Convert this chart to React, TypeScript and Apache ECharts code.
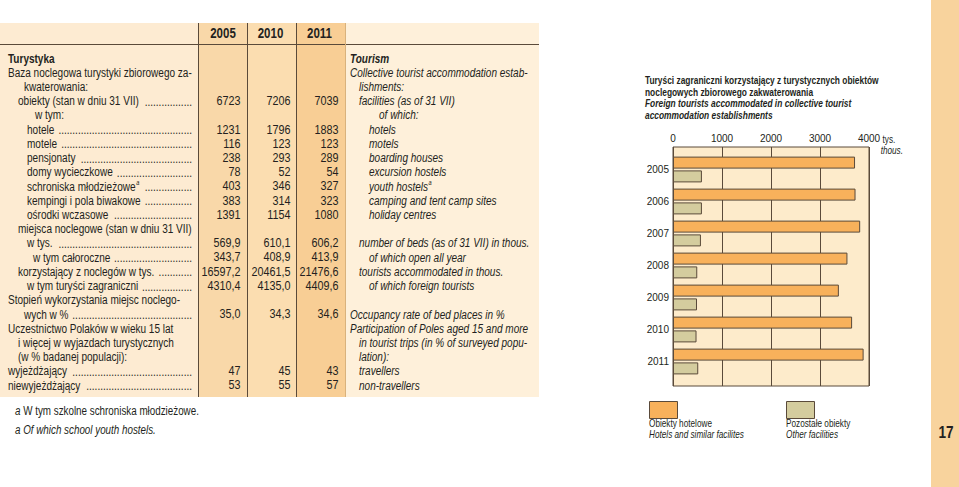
import React, { useEffect, useRef } from 'react';
import * as echarts from 'echarts';

const FONT = '"Liberation Sans", Arial, Helvetica, sans-serif';
const INK = '#231f20';
const LINE = '#5a4a3a';

// ---- table data ----
const headerYears = ['2005', '2010', '2011'];
const plLabels = [
  'Turystyka',
  'Baza noclegowa turystyki zbiorowego za-',
  'kwaterowania:',
  'obiekty (stan w dniu 31 VII)',
  'w tym:',
  'hotele',
  'motele',
  'pensjonaty',
  'domy wycieczkowe',
  'schroniska młodzieżowe',
  'kempingi i pola biwakowe',
  'ośrodki wczasowe',
  'miejsca noclegowe (stan w dniu 31 VII)',
  'w tys.',
  'w tym całoroczne',
  'korzystający z noclegów w tys.',
  'w tym turyści zagraniczni',
  'Stopień wykorzystania miejsc noclego-',
  'wych w %',
  'Uczestnictwo Polaków w wieku 15 lat',
  'i więcej w wyjazdach turystycznych',
  '(w % badanej populacji):',
  'wyjeżdżający',
  'niewyjeżdżający',
];
const enLabels = [
  'Tourism',
  'Collective tourist accommodation estab-',
  'lishments:',
  'facilities (as of 31 VII)',
  'of which:',
  'hotels',
  'motels',
  'boarding houses',
  'excursion hostels',
  'youth hostels',
  'camping and tent camp sites',
  'holiday centres',
  '',
  'number of beds (as of 31 VII) in thous.',
  'of which open all year',
  'tourists accommodated in thous.',
  'of which foreign tourists',
  '',
  'Occupancy rate of bed places in %',
  'Participation of Poles aged 15 and more',
  'in tourist trips (in % of surveyed popu-',
  'lation):',
  'travellers',
  'non-travellers',
];
const valueRows = [3, 5, 6, 7, 8, 9, 10, 11, 13, 14, 15, 16, 18, 22, 23];
const values2005 = ['6723', '1231', '116', '238', '78', '403', '383', '1391', '569,9', '343,7', '16597,2', '4310,4', '35,0', '47', '53'];
const values2010 = ['7206', '1796', '123', '293', '52', '346', '314', '1154', '610,1', '408,9', '20461,5', '4135,0', '34,3', '45', '55'];
const values2011 = ['7039', '1883', '123', '289', '54', '327', '323', '1080', '606,2', '413,9', '21476,6', '4409,6', '34,6', '43', '57'];
const footnoteRow = 9;
const footnoteMark = 'a';
const footnotes = ['W tym szkolne schroniska młodzieżowe.', 'Of which school youth hostels.'];

// ---- chart data ----
const titlePl = ['Turyści zagraniczni korzystający z turystycznych obiektów', 'noclegowych zbiorowego zakwaterowania'];
const titleEn = ['Foreign tourists accommodated in collective tourist', 'accommodation establishments'];
const chartYears = ['2005', '2006', '2007', '2008', '2009', '2010', '2011'];
const hotelsForeign = [3715, 3725, 3820, 3560, 3385, 3655, 3890];
const otherForeign = [590, 590, 570, 495, 490, 480, 515];
const unitPl = 'tys.';
const unitEn = 'thous.';
const legendPl = ['Obiekty hotelowe', 'Pozostałe obiekty'];
const legendEn = ['Hotels and similar facilites', 'Other facilities'];
const pageNumber = '17';

// ---- layout (positions only) ----
const plIndent = [8, 8, 24, 18, 35, 27, 27, 27, 27, 27, 27, 27, 18, 27, 33, 18, 27, 8, 24, 8, 18, 18, 8, 8];
const enIndent = [350, 350, 359, 359, 379, 369, 369, 369, 369, 369, 369, 369, 0, 359, 369, 359, 369, 0, 350, 350, 359, 359, 359, 359];

const TS = 13.5;

let measureCtx: CanvasRenderingContext2D | null = null;
function textW(t: string, size: number, italic = false, bold = false) {
  if (!measureCtx) measureCtx = document.createElement('canvas').getContext('2d');
  if (!measureCtx) return t.length * size * 0.5;
  measureCtx.font = `${italic ? 'italic' : 'normal'} ${bold ? 'bold' : 'normal'} ${size}px ${FONT}`;
  return measureCtx.measureText(t).width;
}

function txt(x: number, y: number, text: string, o: any = {}) {
  const align = o.align || 'left';
  return {
    type: 'text',
    x,
    y,
    scaleX: o.sx == null ? 1 : o.sx,
    silent: true,
    z: 10,
    style: {
      text,
      fill: o.fill || INK,
      fontSize: o.size || TS,
      fontFamily: FONT,
      fontStyle: o.italic ? 'italic' : 'normal',
      fontWeight: o.bold ? 'bold' : 'normal',
      textAlign: align,
      align,
      textVerticalAlign: 'middle',
      verticalAlign: 'middle',
    },
  };
}

function rect(x: number, y: number, w: number, h: number, fill: string, extra: any = {}) {
  return { type: 'rect', silent: true, z: 1, shape: { x, y, width: w, height: h }, style: { fill, ...extra } };
}

function line(x1: number, y1: number, x2: number, y2: number, stroke: string) {
  return { type: 'line', silent: true, z: 2, shape: { x1, y1, x2, y2 }, style: { stroke, lineWidth: 1 } };
}

function buildGraphic() {
  const SX = 184 / textW(plLabels[1], TS);
  const SXV = 39 / textW(values2005[10], TS);
  const TT = 11.5;
  const SXT = 234 / textW(titlePl[0], TT, false, true);
  const FS = 12.5;
  const SXF = 184 / (textW(footnoteMark + ' ', FS, true) + textW(footnotes[0], FS));
  const LS = 11.5;
  const SXL = 63 / textW(legendPl[0], LS);

  const els: any[] = [];
  // table backgrounds
  els.push(rect(0, 23, 198, 374, '#FDEBD2'));
  els.push(rect(198, 23, 49, 374, '#F9D8A9'));
  els.push(rect(247, 23, 49, 374, '#FBDDB0'));
  els.push(rect(296, 23, 49, 374, '#F8CE95'));
  els.push(rect(345, 23, 194, 374, '#FEF0DA'));
  els.push(line(0, 44.5, 539, 44.5, LINE));
  [198.5, 247.5, 296.5].forEach((x) => els.push(line(x, 23, x, 397, LINE)));
  els.push(line(345.5, 23, 345.5, 397, '#d9b27c'));
  // right strip
  els.push(rect(931, 0, 28, 487, '#F8D39D'));
  els.push(txt(946, 433, pageNumber, { bold: true, size: 16, align: 'center', sx: 0.85 }));

  // header years
  const colCenters = [223, 270.5, 319.5];
  headerYears.forEach((y, i) => els.push(txt(colCenters[i], 33.5, y, { bold: true, align: 'center', size: 14, sx: 0.82 })));

  const rowY = (i: number) => 58 + i * 14.22;
  const colRight = [240.5, 290.5, 338.5];
  const dotW = textW('.', TS) * SX;
  plLabels.forEach((lab, i) => {
    const y = rowY(i);
    els.push(txt(plIndent[i], y, lab, { bold: i === 0, sx: SX }));
    let end = plIndent[i] + textW(lab, TS, false, i === 0) * SX;
    if (i === footnoteRow) {
      els.push(txt(end + 0.5, y - 4, footnoteMark, { size: 7.5, italic: true, sx: SX }));
      end += 5;
    }
    const vi = valueRows.indexOf(i);
    if (vi >= 0) {
      const start = end + 3;
      const n = Math.max(0, Math.floor((192 - start) / dotW));
      els.push(txt(192, y + 0.5, '.'.repeat(n), { align: 'right', sx: SX }));
      els.push(txt(colRight[0], y, values2005[vi], { align: 'right', sx: SXV }));
      els.push(txt(colRight[1], y, values2010[vi], { align: 'right', sx: SXV }));
      els.push(txt(colRight[2], y, values2011[vi], { align: 'right', sx: SXV }));
    }
  });
  enLabels.forEach((lab, i) => {
    if (!lab) return;
    const y = rowY(i);
    els.push(txt(enIndent[i], y, lab, { italic: true, bold: i === 0, sx: SX }));
    if (i === footnoteRow) {
      const end = enIndent[i] + textW(lab, TS, true) * SX;
      els.push(txt(end + 0.5, y - 4, footnoteMark, { size: 7.5, italic: true, sx: SX }));
    }
  });

  // footnotes
  els.push(txt(15, 411, footnoteMark, { size: FS, italic: true, sx: SXF }));
  els.push(txt(15 + textW(footnoteMark + ' ', FS, true) * SXF, 411, footnotes[0], { size: FS, sx: SXF }));
  els.push(txt(15, 430, footnoteMark + ' ' + footnotes[1], { size: FS, italic: true, sx: SXF }));

  // chart title
  els.push(txt(645, 80.5, titlePl[0], { bold: true, size: TT, sx: SXT }));
  els.push(txt(645, 92, titlePl[1], { bold: true, size: TT, sx: SXT }));
  els.push(txt(645, 103.5, titleEn[0], { bold: true, italic: true, size: TT, sx: SXT }));
  els.push(txt(645, 115, titleEn[1], { bold: true, italic: true, size: TT, sx: SXT }));

  // unit labels
  els.push(txt(882.5, 138.5, unitPl, { size: LS, sx: SXL }));
  els.push(txt(903, 150, unitEn, { size: LS, italic: true, align: 'right', sx: SXL }));

  // legend
  els.push(rect(649.5, 401.5, 28, 17, '#F8B15B', { stroke: LINE, lineWidth: 1 }));
  els.push(rect(786.5, 401.5, 28, 17, '#D4CC9E', { stroke: LINE, lineWidth: 1 }));
  els.push(txt(649, 422.5, legendPl[0], { size: LS, sx: SXL }));
  els.push(txt(649, 433.5, legendEn[0], { size: LS, italic: true, sx: SXL }));
  els.push(txt(786, 422.5, legendPl[1], { size: LS, sx: SXL }));
  els.push(txt(786, 433.5, legendEn[1], { size: LS, italic: true, sx: SXL }));
  return els;
}

export default function App() {
  const ref = useRef<HTMLDivElement>(null);
  useEffect(() => {
    document.body.style.margin = '0';
    if (!ref.current) return;
    const chart = echarts.init(ref.current, undefined, { renderer: 'svg' });
    const axisFont = { fontSize: 10, fontFamily: FONT, color: INK };
    const option: any = {
      animation: false,
      backgroundColor: '#ffffff',
      grid: [
        { left: 673, top: 147, width: 196, height: 239, show: true, backgroundColor: '#FDEBCB', borderColor: LINE, borderWidth: 1 },
        { left: 673, top: 153.5, width: 196, height: 224 },
      ],
      xAxis: [
        {
          gridIndex: 0,
          type: 'value',
          min: 0,
          max: 4000,
          interval: 1000,
          position: 'top',
          axisLine: { show: false },
          axisTick: { show: false },
          axisLabel: { ...axisFont, margin: 4, formatter: (v: number) => String(v) },
          splitLine: { show: true, lineStyle: { color: LINE, width: 1 } },
        },
        { gridIndex: 1, type: 'value', min: 0, max: 4000, show: false },
      ],
      yAxis: [
        { gridIndex: 0, type: 'value', show: false },
        {
          gridIndex: 1,
          type: 'category',
          data: chartYears,
          inverse: true,
          axisLine: { show: false },
          axisTick: { show: false },
          splitLine: { show: false },
          axisLabel: { ...axisFont, margin: 4 },
        },
      ],
      series: [
        {
          name: legendPl[0],
          type: 'bar',
          xAxisIndex: 1,
          yAxisIndex: 1,
          data: hotelsForeign,
          barWidth: 12,
          barGap: '15%',
          itemStyle: { color: '#F8B15B', borderColor: LINE, borderWidth: 1 },
        },
        {
          name: legendPl[1],
          type: 'bar',
          xAxisIndex: 1,
          yAxisIndex: 1,
          data: otherForeign,
          barWidth: 12,
          barGap: '15%',
          itemStyle: { color: '#D4CC9E', borderColor: LINE, borderWidth: 1 },
        },
      ],
      graphic: { elements: buildGraphic() },
    };
    chart.setOption(option);
    return () => chart.dispose();
  }, []);
  return <div ref={ref} style={{ width: 959, height: 487 }} />;
}
